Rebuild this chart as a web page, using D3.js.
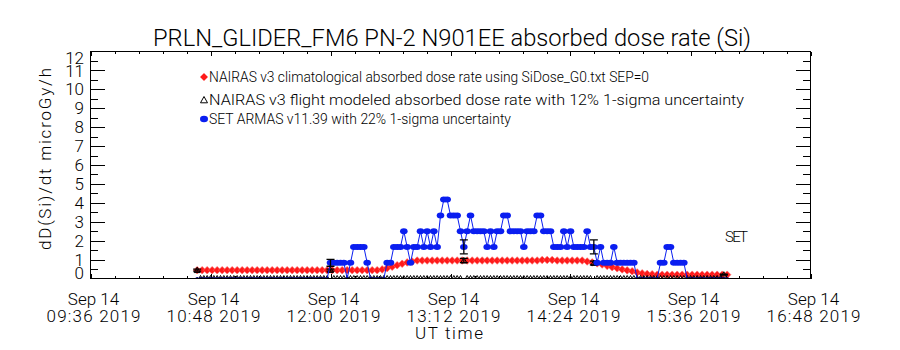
<!DOCTYPE html>
<html><head><meta charset="utf-8">
<script src="https://cdn.jsdelivr.net/npm/d3@7"></script>
<style>
body{margin:0;background:#fff}
svg{display:block}
text{font-family:Roboto,"Liberation Sans",Arial,sans-serif;font-weight:300;fill:#000}
</style>
</head><body>
<svg id="chart" width="900" height="350"></svg>
<script>
// ---------------- DATA ----------------
const chartTitle = "PRLN_GLIDER_FM6 PN-2 N901EE absorbed dose rate (Si)";
const yTitle = "dD(Si)/dt microGy/h";
const xTitle = "UT time";
const legendLabels = [
  "NAIRAS v3 climatological absorbed dose rate using SiDose_G0.txt SEP=0",
  "NAIRAS v3 flight modeled absorbed dose rate with 12% 1-sigma uncertainty",
  "SET ARMAS v11.39 with 22% 1-sigma uncertainty"
];
const annotation = "SET";
const xDomain = ["2019-09-14T09:36:00Z", "2019-09-14T16:48:00Z"];
const xTickTimes = ["2019-09-14T09:36:00Z","2019-09-14T10:48:00Z","2019-09-14T12:00:00Z",
  "2019-09-14T13:12:00Z","2019-09-14T14:24:00Z","2019-09-14T15:36:00Z","2019-09-14T16:48:00Z"];
const xTickLine1 = ["Sep 14","Sep 14","Sep 14","Sep 14","Sep 14","Sep 14","Sep 14"];
const xTickLine2 = ["09:36 2019","10:48 2019","12:00 2019","13:12 2019","14:24 2019","15:36 2019","16:48 2019"];
const xMinorPerMajor = 5;
const yDomain = [0, 12];
const yTickValues = [0,1,2,3,4,5,6,7,8,9,10,11,12];
const yTickLabels = ["0","1","2","3","4","5","6","7","8","9","10","11","12"];

// NAIRAS v3 climatological dose rate, one value every 3 minutes from 10:40 UT
const climStart = "2019-09-14T10:40:00Z";
const climStepMin = 3;
const climValues = [
  0.44,0.44,0.44,0.44,0.44,0.44,0.44,0.44,0.44,0.44,
  0.44,0.44,0.44,0.44,0.44,0.44,0.44,0.44,0.44,0.44,
  0.44,0.44,0.44,0.44,0.44,0.44,0.44,0.44,0.44,0.44,
  0.44,0.44,0.44,0.44,0.44,0.44,0.44,
  0.48,0.55,0.62,0.70,0.78,0.85,0.90,0.95,
  0.95,0.95,0.95,0.95,0.95,0.95,0.95,0.95,0.95,0.95,
  0.95,0.95,0.95,0.95,0.95,0.95,0.95,0.95,0.95,0.95,
  0.95,0.95,0.95,0.95,0.98,0.98,0.98,0.95,0.95,0.95,
  0.95,0.95,0.95,
  0.90,0.85,0.80,0.74,0.67,0.60,0.54,0.48,0.43,0.38,0.32,0.27,0.24,0.22,
  0.20,0.20,0.20,0.20,0.20,0.20,0.20,0.20,0.20,0.20,0.20,0.20,0.20,0.20,0.20
];

// SET ARMAS dose rate and NAIRAS flight-modeled dose rate, one value every 2 minutes from 10:40 UT
const setStart = "2019-09-14T10:40:00Z";
const setStepMin = 2;
const setValues = [
  0,0,0,0,0,0,0,0,0,0, 0,0,0,0,0,0,0,0,0,0, 0,0,0,0,0,0,0,0,0,0, 0,0,0,0,0,0,0,0,0,0,   // 0-39
  0.83,0.83,0.83,0.83,0.83,0,0.83,1.67,1.67,1.67,                                          // 40-49
  1.67,0.83,0,0,0,0,0,0.83,0.83,1.67,                                                      // 50-59
  1.67,1.67,2.5,1.67,0.83,1.67,1.67,2.5,1.67,2.5,                                          // 60-69
  1.67,2.5,1.67,3.33,4.17,4.17,3.33,3.33,3.33,2.5,                                         // 70-79
  1.67,2.5,3.33,2.5,2.5,2.5,2.5,1.67,2.5,1.67,                                             // 80-89
  2.5,2.5,3.33,3.33,2.5,2.5,2.5,2.5,1.67,2.5,                                              // 90-99
  2.5,2.5,3.33,3.33,2.5,2.5,2.5,1.67,1.67,1.67,                                            // 100-109
  2.5,1.67,2.5,1.67,1.67,1.67,1.67,2.5,1.67,1.67,                                          // 110-119
  0.83,1.67,0.83,0.83,0.83,1.67,0.83,0.83,0.83,0.83,                                       // 120-129
  0.83,0.83,0,0,0,0,0,0,0,0.83,                                                            // 130-139
  0.83,1.67,1.67,0.83,0.83,0.83,0.83,0,0,0,                                                // 140-149
  0,0,0,0,0,0,0,0,0,0                                                                      // 150-159
];
const flightValues = [
  0.44,0,0,0,0,0,0,0,0,0, 0,0,0,0,0,0,0,0,0,0, 0,0,0,0,0,0,0,0,0,0, 0,0,0,0,0,0,0,0,0,0,  // 0-39
  0.44,0,0,0,0,0,0,0,0,0, 0,0,0,0,0,0,0,0,0,0, 0,0,0,0,0,0,0,0,0,0, 0,0,0,0,0,0,0,0,0,0,  // 40-79
  0.95,0,0,0,0,0,0,0,0,0, 0,0,0,0,0,0,0,0,0,0, 0,0,0,0,0,0,0,0,0,0, 0,0,0,0,0,0,0,0,0,    // 80-118
  0.82,0,0,0,0,0,0,0,0,0, 0,0,0,0,0,0,0,0,0,0, 0,0,0,0,0,0,0,0,0,0, 0,0,0,0,0,0,0,0,0,    // 119-158
  0.20                                                                                     // 159
];
const flightSigma = 0.12;
const setSigma = 0.22;

// ---------------- DRAW ----------------
const svg = d3.select("#chart");
const P = {left: 90.5, right: 810.5, top: 51.5, bottom: 278.5};
const parse = s => new Date(s);
const x = d3.scaleUtc().domain(xDomain.map(parse)).range([P.left, P.right]);
const y = d3.scaleLinear().domain(yDomain).range([P.bottom, P.top]);

const minute = 60000;
const climData = climValues.map((v,i) => ({t: new Date(parse(climStart).getTime() + i*climStepMin*minute), v}));
const setData = setValues.map((v,i) => ({t: new Date(parse(setStart).getTime() + i*setStepMin*minute), v, f: flightValues[i]}));

const RED = "#ff1a1a", BLUE = "#0a1ef0";
const defs = svg.append("defs");
defs.append("clipPath").attr("id","plotClip").append("rect")
  .attr("x",P.left).attr("y",P.top).attr("width",P.right-P.left).attr("height",P.bottom-P.top);

// title
svg.append("text").attr("x",452).attr("y",46).attr("text-anchor","middle")
  .style("font-size","24px").attr("textLength",598).attr("lengthAdjust","spacingAndGlyphs").text(chartTitle);

// axes ticks
const majorT = xTickTimes.map(parse);
const minorT = [];
for (let i=0;i<majorT.length-1;i++){
  const a = majorT[i].getTime(), b = majorT[i+1].getTime();
  for (let k=1;k<xMinorPerMajor;k++) minorT.push(new Date(a + (b-a)*k/xMinorPerMajor));
}
const axG = svg.append("g").attr("stroke","#000").attr("stroke-width",1).attr("shape-rendering","crispEdges");
const yMajor = d3.range(yDomain[0]+1, yDomain[1]);
const yMinor = d3.range(yDomain[0]+0.5, yDomain[1], 1);
const xMajLen = 4.6, xMinLen = 2.3, yMajLen = 14.4, yMinLen = 7.2;
function tick(x1,y1,x2,y2){ axG.append("line").attr("x1",x1).attr("y1",y1).attr("x2",x2).attr("y2",y2); }
majorT.forEach(t => { const xx = Math.round(x(t))+0.5; tick(xx,P.bottom,xx,P.bottom-xMajLen); tick(xx,P.top,xx,P.top+xMajLen); });
minorT.forEach(t => { const xx = Math.round(x(t))+0.5; tick(xx,P.bottom,xx,P.bottom-xMinLen); tick(xx,P.top,xx,P.top+xMinLen); });
yMajor.forEach(v => { const yy = Math.round(y(v))+0.5; tick(P.left,yy,P.left+yMajLen,yy); tick(P.right,yy,P.right-yMajLen,yy); });
yMinor.forEach(v => { const yy = Math.round(y(v))+0.5; tick(P.left,yy,P.left+yMinLen,yy); tick(P.right,yy,P.right-yMinLen,yy); });

// x tick labels
const xl = svg.append("g").style("font-size","17px").attr("text-anchor","middle");
majorT.forEach((t,i) => {
  const tx = xl.append("text");
  tx.append("tspan").attr("x", x(t)+3).attr("y", 305).text(xTickLine1[i]);
  tx.append("tspan").attr("x", x(t)+3).attr("y", 322).attr("textLength",94).text(xTickLine2[i]);
});
// y tick labels
const yl = svg.append("g").style("font-size","17px").attr("text-anchor","end");
yTickValues.forEach((v,i) => {
  let cy = y(v);
  if (v === yDomain[0]) cy -= 6;
  if (v === yDomain[1]) cy += 6;
  yl.append("text").attr("x",84).attr("y",cy).attr("dy","0.36em").text(yTickLabels[i]);
});
svg.append("text").attr("transform","translate(51,159) rotate(-90)").attr("text-anchor","middle")
  .style("font-size","17px").attr("textLength",182).text(yTitle);
svg.append("text").attr("x",449).attr("y",339).attr("text-anchor","middle").style("font-size","17px")
  .attr("textLength",68).text(xTitle);

// data layer
const dg = svg.append("g").attr("clip-path","url(#plotClip)");
const diamond = (cx,cy,r) => `M${cx},${cy-r}L${cx+r},${cy}L${cx},${cy+r}L${cx-r},${cy}Z`;
const tri = (cx,cy,r) => `M${cx},${cy-r}L${cx+r},${cy+r*0.8}L${cx-r},${cy+r*0.8}Z`;

// climatological (red diamonds)
dg.append("g").selectAll("path").data(climData).join("path")
  .attr("d", d => diamond(x(d.t), y(d.v), 3.8)).attr("fill",RED).attr("stroke","#ff6a6a").attr("stroke-width",0.6);

// flight modeled (black triangles + 12% error bars)
dg.append("g").selectAll("path").data(setData).join("path")
  .attr("d", d => tri(x(d.t), y(d.f), 3)).attr("fill","none").attr("stroke","#000").attr("stroke-width",1);
const flightPts = setData.filter(d => d.f > 0);
const eb = dg.append("g").attr("stroke","#000").attr("stroke-width",1.3);
flightPts.forEach(d => {
  const xx = x(d.t), lo = y(d.f*(1-flightSigma)), hi = y(d.f*(1+flightSigma));
  eb.append("line").attr("x1",xx).attr("x2",xx).attr("y1",lo).attr("y2",hi);
  eb.append("line").attr("x1",xx-4).attr("x2",xx+4).attr("y1",lo).attr("y2",lo);
  eb.append("line").attr("x1",xx-4).attr("x2",xx+4).attr("y1",hi).attr("y2",hi);
});

// SET ARMAS (blue)
dg.append("path").attr("fill","none").attr("stroke",BLUE).attr("stroke-width",1)
  .attr("d", d3.line().x(d=>x(d.t)).y(d=>y(d.v))(setData));
dg.append("g").selectAll("ellipse").data(setData).join("ellipse")
  .attr("cx", d => x(d.t)).attr("cy", d => y(d.v))
  .attr("rx", d => d.v > 0 ? 3.8 : 1.8).attr("ry", d => d.v > 0 ? 3 : 1.6)
  .attr("fill", d => d.v > 0 ? BLUE : "#000070");
// SET error bars at flight-model times
const eb2 = dg.append("g").attr("stroke","#000").attr("stroke-width",1.3);
flightPts.forEach(d => {
  if (!(d.v > 0)) return;
  const xx = x(d.t), lo = y(d.v*(1-setSigma)), hi = y(d.v*(1+setSigma));
  eb2.append("line").attr("x1",xx).attr("x2",xx).attr("y1",lo).attr("y2",hi);
  eb2.append("line").attr("x1",xx-4).attr("x2",xx+4).attr("y1",lo).attr("y2",lo);
  eb2.append("line").attr("x1",xx-4).attr("x2",xx+4).attr("y1",hi).attr("y2",hi);
});

// frame
svg.append("rect").attr("x",P.left).attr("y",P.top).attr("width",P.right-P.left).attr("height",P.bottom-P.top)
  .attr("fill","none").attr("stroke","#000").attr("stroke-width",1).attr("shape-rendering","crispEdges");

// legend
const lg = svg.append("g").style("font-size","14px");
const legY = [77, 100, 119];
const legW = [440, 535, 302];
lg.append("path").attr("d", diamond(204, legY[0], 4)).attr("fill",RED).attr("stroke","#ff9a9a").attr("stroke-width",0.8);
lg.append("path").attr("d", tri(204, legY[1], 3.5)).attr("fill","none").attr("stroke","#000");
lg.append("ellipse").attr("cx",204).attr("cy",legY[2]).attr("rx",4).attr("ry",3.2).attr("fill",BLUE);
legendLabels.forEach((s,i) => {
  lg.append("text").attr("x",209).attr("y",legY[i]).attr("dy","0.36em")
    .attr("textLength",legW[i]).attr("lengthAdjust","spacingAndGlyphs").text(s);
});

// annotation
svg.append("text").attr("x",725).attr("y",242).style("font-size","15px").attr("textLength",23).text(annotation);
</script>
</body></html>
